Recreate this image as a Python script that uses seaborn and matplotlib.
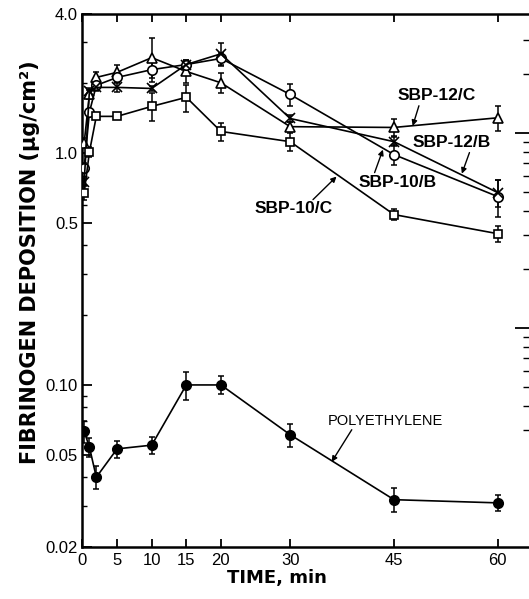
import numpy as np
import pandas as pd
import matplotlib
matplotlib.use("Agg")
import matplotlib.pyplot as plt
import seaborn as sns
from matplotlib.ticker import FixedLocator, FixedFormatter, NullFormatter, LogLocator

# ---------------- data ----------------
time_min = [0.25, 1, 2, 5, 10, 15, 20, 30, 45, 60]

sbp12c = [1.11, 1.79, 2.12, 2.23, 2.58, 2.25, 2.01, 1.30, 1.29, 1.42]
sbp12c_err = [0.05, 0.08, 0.12, 0.17, 0.55, 0.25, 0.20, 0.06, 0.11, 0.18]

sbp10b = [0.866, 1.50, 1.96, 2.12, 2.29, 2.41, 2.56, 1.79, 0.985, 0.649]
sbp10b_err = [0.04, 0.05, 0.08, 0.10, 0.18, 0.10, 0.15, 0.19, 0.10, 0.12]

sbp12b = [0.753, 1.85, 1.92, 1.92, 1.90, 2.41, 2.68, 1.41, 1.12, 0.675]
sbp12b_err = [0.03, 0.05, 0.06, 0.08, 0.05, 0.10, 0.30, 0.05, 0.05, 0.09]

sbp10c = [0.675, 1.01, 1.44, 1.44, 1.59, 1.74, 1.24, 1.12, 0.543, 0.449]
sbp10c_err = [0.05, 0.05, 0.04, 0.04, 0.22, 0.23, 0.11, 0.10, 0.03, 0.035]

polyethylene = [0.063, 0.054, 0.040, 0.053, 0.055, 0.100, 0.100, 0.061, 0.032, 0.031]
polyethylene_err = [0.007, 0.005, 0.0045, 0.0045, 0.0045, 0.014, 0.009, 0.007, 0.0038, 0.0024]

x_ticks = [0, 5, 10, 15, 20, 30, 45, 60]
y_ticks = [0.02, 0.05, 0.10, 0.5, 1.0, 4.0]
y_tick_labels = ["0.02", "0.05", "0.10", "0.5", "1.0", "4.0"]

# ---------------- style ----------------
sns.set_theme(style="ticks")
plt.rcParams["font.family"] = ["Liberation Sans", "DejaVu Sans"]
plt.rcParams["text.color"] = "black"
plt.rcParams["axes.labelcolor"] = "black"
plt.rcParams["xtick.color"] = "black"
plt.rcParams["ytick.color"] = "black"

W, H = 529, 599
fig = plt.figure(figsize=(W / 100, H / 100), dpi=100)
ax_l, ax_r, ax_t, ax_b = 81.5, 529.0, 13.5, 547.0
ax = fig.add_axes([ax_l / W, 1 - ax_b / H, (ax_r - ax_l) / W, (ax_b - ax_t) / H])
ax.set_yscale("log")

series = [
    ("SBP-12/C", sbp12c, sbp12c_err, "^", "white", 7.8),
    ("SBP-10/B", sbp10b, sbp10b_err, "o", "white", 6.8),
    ("SBP-12/B", sbp12b, sbp12b_err, "x", "black", 6.8),
    ("SBP-10/C", sbp10c, sbp10c_err, "s", "white", 6.4),
    ("POLYETHYLENE", polyethylene, polyethylene_err, "o", "black", 6.8),
]

for name, vals, errs, mk, mfc, ms in series:
    df = pd.DataFrame({"time": time_min, "dep": vals})
    ax.errorbar(time_min, vals, yerr=errs, fmt="none", ecolor="black",
                elinewidth=1.1, capsize=2.5, capthick=1.1, zorder=2)
    sns.lineplot(data=df, x="time", y="dep", ax=ax, color="black", lw=1.2,
                 marker=mk, markersize=ms, markerfacecolor=mfc,
                 markeredgecolor="black", markeredgewidth=1.2,
                 estimator=None, errorbar=None, legend=False, zorder=3)

ax.set_xlim(-0.14, 64.5)
ax.set_ylim(0.02, 4.0)

ax.xaxis.set_major_locator(FixedLocator(x_ticks))
ax.xaxis.set_major_formatter(FixedFormatter([str(v) for v in x_ticks]))
ax.yaxis.set_major_locator(FixedLocator(y_ticks))
ax.yaxis.set_major_formatter(FixedFormatter(y_tick_labels))
ax.yaxis.set_minor_locator(LogLocator(base=10, subs=np.arange(2, 10)))
ax.yaxis.set_minor_formatter(NullFormatter())

ax.tick_params(axis="x", which="major", direction="in", top=True, bottom=True,
               length=6, width=1.3, pad=4, labelsize=12, colors="black")
ax.tick_params(axis="y", which="major", direction="in", left=True, right=False,
               length=7, width=1.3, pad=2.5, labelsize=12, colors="black")
ax.tick_params(axis="y", which="minor", direction="in", left=True, right=False,
               length=3.5, width=1.0, colors="black")
for s in ["left", "bottom", "top"]:
    ax.spines[s].set_linewidth(1.8)
    ax.spines[s].set_color("black")
ax.spines["right"].set_visible(False)

ax.set_xlabel("TIME, min", fontsize=13, fontweight="bold", family="DejaVu Sans",
              color="black")
ax.xaxis.set_label_coords((277 - ax_l) / (ax_r - ax_l), (ax_b - 569) / (ax_b - ax_t))
ax.set_ylabel("FIBRINOGEN DEPOSITION (μg/cm²)", fontsize=15, fontweight="bold",
              family="DejaVu Sans", color="black")
ax.yaxis.set_label_coords((40 - ax_l) / (ax_r - ax_l), (ax_b - 262) / (ax_b - ax_t))

# series labels with arrows
labels = [
    ("SBP-12/C", (51.2, 1.77), (48.6, 1.60), (47.7, 1.31), "bold", 12.5),
    ("SBP-12/B", (53.3, 1.11), (55.9, 1.005), (54.8, 0.815), "bold", 12.5),
    ("SBP-10/B", (45.5, 0.746), (42.2, 0.824), (43.4, 1.035), "bold", 12.5),
    ("SBP-10/C", (30.5, 0.576), (33.3, 0.630), (36.7, 0.792), "bold", 12.5),
    ("POLYETHYLENE", (43.7, 0.070), (38.9, 0.0641), (36.0, 0.0466), "normal", 10.5),
]
for txt, pos, start, tip, fw, fs in labels:
    ax.text(pos[0], pos[1], txt, ha="center", va="center", fontsize=fs,
            fontweight=fw, color="black", zorder=5)
    ax.annotate("", xy=tip, xytext=start,
                arrowprops=dict(arrowstyle="-|>", color="black", lw=1.0,
                                mutation_scale=8, shrinkA=0, shrinkB=0), zorder=5)

# tick marks on the right edge (neighbouring scale in the scan)
ax2 = ax.twinx()
ax2.set_yscale("log")
ax2.set_ylim(0.00753, 4.10)
for s in ax2.spines.values():
    s.set_visible(False)
ax2.yaxis.set_major_locator(FixedLocator([0.1, 1.0]))
ax2.yaxis.set_minor_locator(FixedLocator([0.03, 0.04, 0.05, 0.06, 0.07, 0.08, 0.09,
                                          0.2, 0.3, 0.4, 0.5, 0.6, 0.7, 0.8, 0.9, 2, 3]))
ax2.yaxis.set_major_formatter(NullFormatter())
ax2.yaxis.set_minor_formatter(NullFormatter())
ax2.tick_params(axis="y", which="major", direction="in", length=10, width=1.3, colors="black")
ax2.tick_params(axis="y", which="minor", direction="in", length=4, width=1.0, colors="black")
ax2.grid(False)

fig.savefig("out.png", dpi=100)
